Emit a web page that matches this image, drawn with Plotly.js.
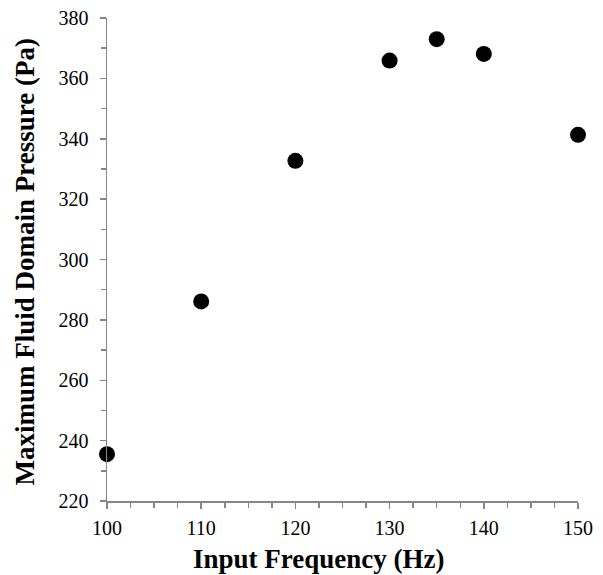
<!DOCTYPE html>
<html>
<head>
<meta charset="utf-8">
<script src="https://cdn.plot.ly/plotly-3.0.1.min.js"></script>
<style>html,body{margin:0;padding:0;background:#fff;}#chart{width:603px;height:575px;}</style>
</head>
<body>
<div id="chart"></div>
<script>
const frequency = [100, 110, 120, 130, 135, 140, 150];
const pressure = [235.5, 286.1, 332.7, 365.9, 373.0, 368.1, 341.3];
const xTitle = 'Input Frequency (Hz)';
const yTitle = 'Maximum Fluid Domain Pressure (Pa)';

const axisColor = '#868686';
const serif = '"Liberation Serif", "Times New Roman", serif';

const trace = {
  x: frequency,
  y: pressure,
  type: 'scatter',
  mode: 'markers',
  marker: {color: '#000000', size: 16},
  cliponaxis: false,
  hoverinfo: 'x+y'
};

const layout = {
  width: 603,
  height: 575,
  margin: {l: 107, r: 25, t: 18, b: 74},
  paper_bgcolor: '#ffffff',
  plot_bgcolor: '#ffffff',
  showlegend: false,
  font: {family: serif, color: '#000000'},
  xaxis: {
    range: [100, 150],
    tick0: 100,
    dtick: 10,
    showgrid: false,
    zeroline: false,
    showline: true,
    linecolor: axisColor,
    linewidth: 1.5,
    ticks: 'outside',
    ticklen: 6,
    tickwidth: 1.5,
    tickcolor: axisColor,
    ticklabelstandoff: 2,
    tickfont: {family: serif, size: 20, color: '#000000'},
    minor: {dtick: 2.5, ticks: 'outside', ticklen: 5, tickwidth: 1.5, tickcolor: axisColor, showgrid: false},
    fixedrange: true
  },
  yaxis: {
    range: [220, 380],
    tick0: 220,
    dtick: 20,
    showgrid: false,
    zeroline: false,
    showline: true,
    linecolor: axisColor,
    linewidth: 1.5,
    ticks: 'outside',
    ticklen: 6,
    tickwidth: 1.5,
    tickcolor: axisColor,
    ticklabelstandoff: 7,
    tickfont: {family: serif, size: 20, color: '#000000'},
    minor: {dtick: 10, ticks: 'outside', ticklen: 5, tickwidth: 1.5, tickcolor: axisColor, showgrid: false},
    fixedrange: true
  },
  annotations: [
    {
      text: xTitle, xref: 'paper', yref: 'paper', x: 0.45, y: 0,
      xanchor: 'center', yanchor: 'bottom', yshift: -74, borderpad: 0, showarrow: false,
      font: {family: serif, size: 27, color: '#000000', weight: 'bold'}
    },
    {
      text: yTitle, xref: 'paper', yref: 'paper', x: 0, y: 0.494,
      xanchor: 'center', yanchor: 'middle', xshift: -82, textangle: -90, showarrow: false,
      font: {family: serif, size: 27, color: '#000000', weight: 'bold'}
    }
  ]
};

Plotly.newPlot('chart', [trace], layout, {displayModeBar: false, staticPlot: true});
</script>
</body>
</html>
